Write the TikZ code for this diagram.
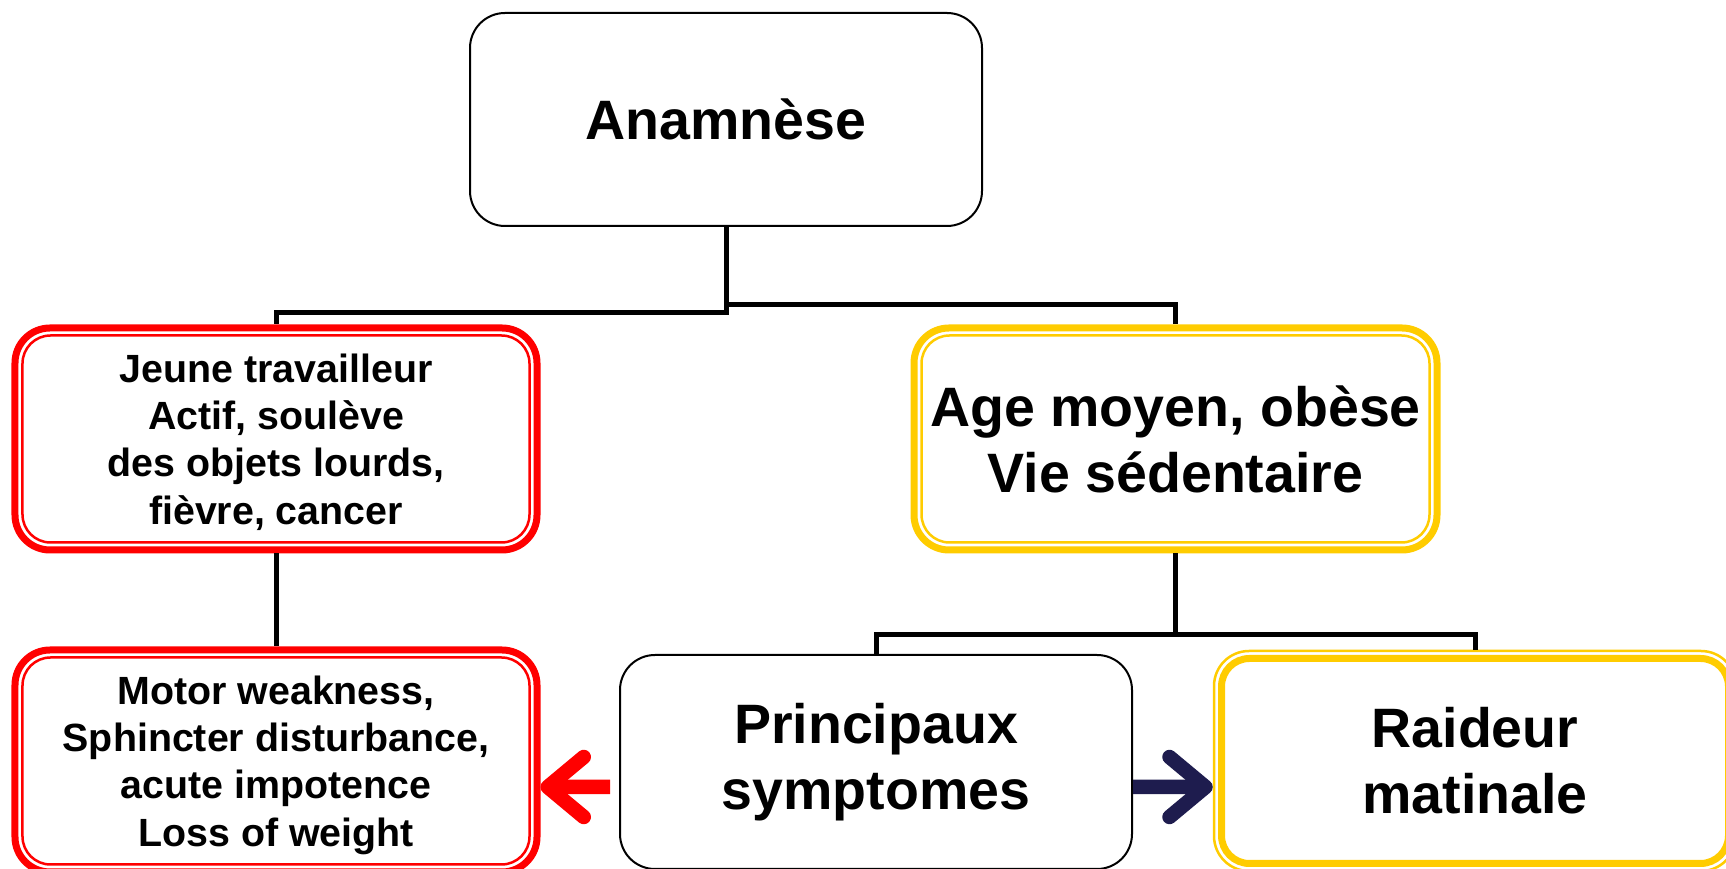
\documentclass[tikz,border=0pt]{standalone}
\usepackage{fontspec}
\setmainfont{Liberation Sans}
\usetikzlibrary{positioning, arrows.meta}

\definecolor{boxyellow}{RGB}{255,204,0}
\definecolor{arrownavy}{RGB}{30,28,78}

\tikzset{
  box/.style={rounded corners=0.35cm, fill=white, inner sep=0pt, align=center},
  bigtxt/.style={font=\bfseries\fontsize{15.8}{18.8}\selectfont},
  smalltxt/.style={font=\bfseries\fontsize{11.2}{13.5}\selectfont, text depth=-0.05cm},
  plainbox/.style={box, draw=black, line width=0.02cm},
  % thick outer line, thin inner line (or the other way round)
  dblbox/.style n args={3}{box, draw=#1, line width=#2,
    path picture={\draw[#1, line width=#3, rounded corners=0.28cm]
      ([shift={(0.075cm,0.075cm)}]path picture bounding box.south west) rectangle
      ([shift={(-0.075cm,-0.075cm)}]path picture bounding box.north east);}},
  link/.style={line width=0.05cm},
  bigarrow/.style={line width=0.145cm, -{Straight Barb[length=0.36cm, width=0.6cm, round]}}
}

\begin{document}
\begin{tikzpicture}
  \useasboundingbox (0,0) rectangle (17.26,8.69);
  \clip (0,0) rectangle (17.26,8.69);
  % Top box
  \node[plainbox, bigtxt, minimum width=5.12cm, minimum height=2.13cm]
    (anam) at (7.26, 7.495) {Anamnèse};
  % Second row
  \node[dblbox={red}{0.07cm}{0.025cm}, smalltxt, minimum width=5.22cm, minimum height=2.22cm]
    (jeune) at (2.76, 4.30) {Jeune travailleur\\Actif, soulève\\des objets lourds,\\fièvre, cancer};
  \node[dblbox={boxyellow}{0.07cm}{0.025cm}, bigtxt, minimum width=5.23cm, minimum height=2.22cm]
    (age) at (11.755, 4.30) {Age moyen, obèse\\Vie sédentaire};
  % Bottom row (cut off at the page edge)
  \node[dblbox={red}{0.07cm}{0.025cm}, smalltxt, minimum width=5.22cm, minimum height=2.22cm]
    (motor) at (2.76, 1.08) {Motor weakness,\\Sphincter disturbance,\\acute impotence\\Loss of weight};
  \node[plainbox, bigtxt, minimum width=5.12cm, minimum height=2.14cm]
    (princ) at (8.76, 1.07) {Principaux\\symptomes};
  \node[dblbox={boxyellow}{0.025cm}{0.07cm}, bigtxt, minimum width=5.22cm, minimum height=2.20cm]
    (raideur) at (14.75, 1.08) {Raideur\\matinale};
  % Tree links
  \draw[link] (anam.south) -- ++(0,-0.855) -| (jeune.north);
  \draw[link] (anam.south) -- ++(0,-0.78) -| (age.north);
  \draw[link] (jeune.south) -- (motor.north);
  \coordinate (fork) at ([yshift=-0.81cm]age.south);
  \draw[link] (age.south) -- (fork) -| (princ.north);
  \draw[link] (fork) -| (raideur.north);
  % Arrows out of the symptoms box
  \draw[bigarrow, red] ([shift={(-0.09cm,-0.25cm)}]princ.west) -- ([yshift=-0.26cm]motor.east);
  \draw[bigarrow, arrownavy] ([yshift=-0.25cm]princ.east) -- ([yshift=-0.26cm]raideur.west);
\end{tikzpicture}
\end{document}
